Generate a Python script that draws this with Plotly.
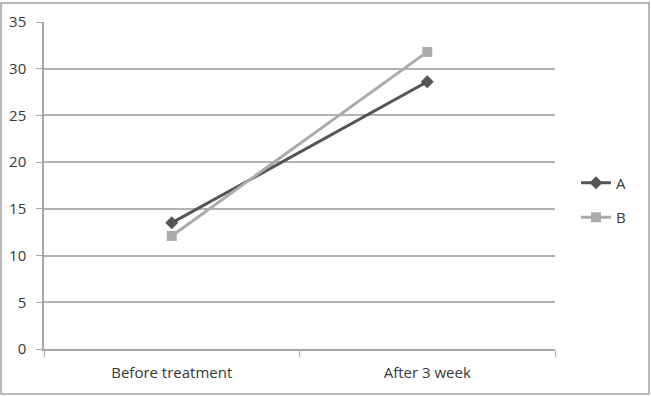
import plotly.graph_objects as go

categories = ["Before treatment", "After 3 week"]
series_a = [13.5, 28.6]
series_b = [12.1, 31.8]

W, H = 651, 396
ml, mr, mt, mb = 44, 96, 22, 47
pw, ph = W - ml - mr, H - mt - mb

fig = go.Figure()
fig.add_trace(go.Scatter(x=categories, y=series_a, name="A", mode="lines+markers",
                         legendgroup="a",
                         line=dict(color="#555555", width=3),
                         marker=dict(symbol="diamond", size=10, color="#555555")))
fig.add_trace(go.Scatter(x=categories, y=series_b, name="B", mode="lines+markers",
                         legendgroup="b",
                         line=dict(color="#ababab", width=3),
                         marker=dict(symbol="square", size=10, color="#ababab")))

def px_x(p):
    return (p - ml) / pw

def px_y(p):
    return (H - mb - p) / ph

fig.add_shape(type="rect", xref="paper", yref="paper",
              x0=px_x(1), x1=px_x(649), y0=px_y(394), y1=px_y(3),
              line=dict(color="#a0a0a0", width=1.5), layer="below")

font = dict(family="Open Sans, DejaVu Sans, sans-serif", size=15, color="#383838")
fig.update_layout(
    width=W, height=H,
    margin=dict(l=ml, r=mr, t=mt, b=mb, pad=0, autoexpand=False),
    paper_bgcolor="white", plot_bgcolor="white",
    font=font,
    showlegend=True,
    legend=dict(x=px_x(576), y=px_y(200), xanchor="left", yanchor="middle",
                font=dict(size=15, color="#383838"), tracegroupgap=12,
                itemwidth=30, bgcolor="rgba(0,0,0,0)"),
    xaxis=dict(type="category", range=[-0.5, 1.5], showgrid=False, automargin=False,
               showline=True, linecolor="#a6a6a6", linewidth=1.5,
               ticks="outside", tickson="boundaries", ticklen=6, tickcolor="#a6a6a6",
               ticklabelstandoff=9, tickfont=font),
    yaxis=dict(range=[0, 35], tickvals=[0, 5, 10, 15, 20, 25, 30, 35], automargin=False,
               showgrid=True, gridcolor="#b3b3b3", gridwidth=1.5,
               showline=True, linecolor="#a6a6a6", linewidth=1.5,
               ticks="outside", ticklen=6, tickcolor="#a6a6a6",
               ticklabelstandoff=7,
               zeroline=False, tickfont=font),
)

fig.write_html("out.html")
